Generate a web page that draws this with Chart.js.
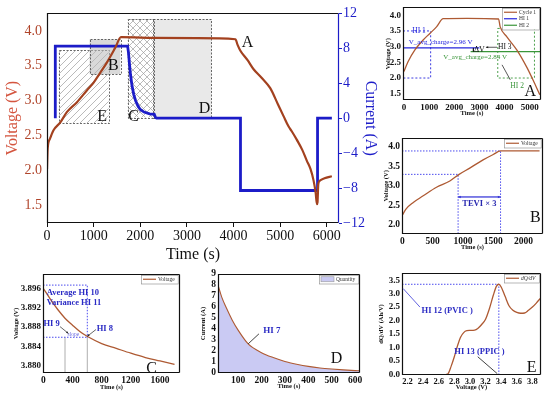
<!DOCTYPE html>
<html lang="en">
<head>
<meta charset="UTF-8">
<title>Charge / discharge cycle and health indicators</title>
<style>
  body { margin: 0; background: #fff; }
  #wrap { position: relative; width: 550px; height: 395px; overflow: hidden; background: #fff; }
  canvas { position: absolute; }
</style>
<script src="https://cdn.jsdelivr.net/npm/chart.js"></script>
</head>
<body>
<div id="wrap">
  <canvas id="main" width="380" height="265" style="left:0;top:0"></canvas>
  <canvas id="panelA" width="180" height="130" style="left:370px;top:0"></canvas>
  <canvas id="panelB" width="180" height="130" style="left:370px;top:130px"></canvas>
  <canvas id="panelC" width="190" height="133" style="left:0;top:262px"></canvas>
  <canvas id="panelD" width="180" height="133" style="left:190px;top:262px"></canvas>
  <canvas id="panelE" width="180" height="133" style="left:370px;top:262px"></canvas>
</div>

<script>
// ---- main panel: one full cycle ----
const mainTime = [0, 15, 60, 143, 286, 429, 643, 857, 1000, 1140, 1286, 1464, 1586, 2300, 3200, 4040, 4086, 4143, 4300, 4429, 4600, 4786, 4950, 5071, 5180, 5250, 5357, 5470, 5571, 5650, 5714, 5760, 5786, 5800, 5815, 5840, 5950, 6107];
const mainVolt = [2.02, 2.32, 2.45, 2.58, 2.69, 2.84, 2.98, 3.15, 3.26, 3.40, 3.55, 3.76, 3.91, 3.90, 3.895, 3.88, 3.80, 3.72, 3.58, 3.45, 3.33, 3.18, 2.95, 2.78, 2.63, 2.56, 2.44, 2.30, 2.14, 2.02, 1.86, 1.68, 1.52, 1.55, 1.80, 1.85, 1.89, 1.92];
const currTime = [178, 178, 1728, 1745, 1765, 1790, 1820, 1860, 1900, 1950, 2000, 2080, 2200, 2300, 2330, 2350, 4148, 4148, 5800, 5800, 6107];
const currVal = [0, 8.25, 8.25, 7.6, 6.4, 5.0, 3.8, 2.7, 2.0, 1.4, 1.0, 0.7, 0.5, 0.45, 0.05, 0, 0, -8.28, -8.28, 0, 0];
const mainXTicks = [0, 1000, 2000, 3000, 4000, 5000, 6000];
const voltTicks = [1.5, 2.0, 2.5, 3.0, 3.5, 4.0];
const currTicks = [-12, -8, -4, 0, 4, 8, 12];

// boxes marking the regions used by panels B-E (time range, voltage range)
const boxName = ['E', 'D', 'C', 'B'];
const boxT0 = [250, 2275, 1728, 913];
const boxT1 = [1320, 3526, 2275, 1571];
const boxVlo = [2.68, 2.76, 2.76, 3.38];
const boxVhi = [3.72, 4.17, 4.17, 3.88];
const tagName = ['A', 'B', 'C', 'D', 'E'];
const tagTime = [4300, 1423, 1854, 3378, 1180];
const tagVolt = [3.83, 3.50, 2.77, 2.88, 2.77];

// ---- panel A ----
const aTime = [0, 160, 427, 760, 1027, 1293, 1560, 2500, 3760, 3827, 4093, 4493, 4893, 5160, 5400];
const aVolt = [2.21, 2.52, 2.89, 3.21, 3.42, 3.63, 3.89, 3.90, 3.88, 3.63, 3.31, 2.89, 2.33, 1.89, 1.47];
const aXTicks = [0, 1000, 2000, 3000, 4000, 5000];
const aYTicks = [1.5, 2.0, 2.5, 3.0, 3.5, 4.0];
const hi1Avg = 2.96, hi2Avg = 2.84;
const hi1Box = [0, 1060, 2.0, 3.5];      // t0, t1, vlo, vhi
const hi2Box = [3730, 5190, 2.0, 3.58];

// ---- panel B ----
const bTime = [0, 60, 181, 345, 564, 784, 937, 1112, 1332, 1500, 1622, 2263];
const bVolt = [2.24, 2.40, 2.57, 2.74, 2.96, 3.12, 3.29, 3.45, 3.66, 3.80, 3.89, 3.89];
const bXTicks = [0, 500, 1000, 1500, 2000];
const bYTicks = [2.0, 2.5, 3.0, 3.5, 4.0];
const teviTime = [920, 1620];
const teviVolt = [3.29, 3.89];

// ---- panel C ----
const cTime = [0, 100, 200, 300, 400, 500, 600, 800, 1000, 1200, 1400, 1600, 1800];
const cVolt = [3.8960, 3.8937, 3.8916, 3.8898, 3.8884, 3.8871, 3.8861, 3.8846, 3.8836, 3.8826, 3.8817, 3.8810, 3.8803];
const cXTicks = [0, 400, 800, 1200, 1600];
const cYTicks = [3.880, 3.884, 3.888, 3.892, 3.896];

// ---- panel D ----
const dTime = [14, 30, 50, 75, 100, 143, 200, 250, 300, 350, 400, 450, 500, 550, 600, 621];
const dCurr = [8.0, 6.9, 5.9, 4.8, 3.9, 2.65, 1.85, 1.4, 1.05, 0.8, 0.6, 0.46, 0.36, 0.28, 0.22, 0.2];
const dXTicks = [100, 200, 300, 400, 500, 600];
const dYTicks = [0, 1, 2, 3, 4, 5, 6, 7, 8, 9];

// ---- panel E ----
const eVolt = [2.70, 2.72, 2.76, 2.80, 2.84, 2.88, 2.92, 2.96, 3.00, 3.06, 3.10, 3.15, 3.20, 3.25, 3.30, 3.34, 3.37, 3.40, 3.45, 3.50, 3.55, 3.60, 3.65, 3.70, 3.75, 3.80, 3.85, 3.90];
const eDqdv = [0, 0.02, 0.3, 0.65, 1.05, 1.38, 1.55, 1.62, 1.63, 1.64, 1.70, 1.85, 2.05, 2.45, 2.95, 3.28, 3.35, 3.25, 2.9, 2.55, 2.38, 2.3, 2.27, 2.28, 2.38, 2.5, 2.65, 2.82];
const eXTicks = [2.2, 2.4, 2.6, 2.8, 3.0, 3.2, 3.4, 3.6, 3.8];
const eYTicks = [0, 0.5, 1.0, 1.5, 2.0, 2.5, 3.0, 3.5];
const peakV = 3.37, peakQ = 3.35;

const serif = "'Liberation Serif', 'Times New Roman', serif";
Chart.defaults.font.family = serif;
const brown = '#A3411F', blue = '#1C1CC8', insetBrown = '#AE5A33', insetBlue = '#2525DD', green = '#3A963A', noteBlue = '#2B2BC4';

const pts = (xs, ys) => xs.map((x, i) => ({ x, y: ys[i] }));

function txt(ctx, s, x, y, size, color, opt = {}) {
  ctx.font = (opt.italic ? 'italic ' : '') + (opt.bold ? 'bold ' : '') + size + 'px ' + serif;
  ctx.fillStyle = color;
  ctx.textAlign = opt.align || 'left';
  ctx.textBaseline = 'middle';
  ctx.fillText(s, x, y);
}
function seg(ctx, x1, y1, x2, y2, color, w = 0.8, head = 0) {
  ctx.strokeStyle = color; ctx.fillStyle = color; ctx.lineWidth = w;
  ctx.beginPath(); ctx.moveTo(x1, y1); ctx.lineTo(x2, y2); ctx.stroke();
  if (head) {
    const a = Math.atan2(y2 - y1, x2 - x1);
    ctx.beginPath(); ctx.moveTo(x2, y2);
    ctx.lineTo(x2 - head * Math.cos(a - 0.45), y2 - head * Math.sin(a - 0.45));
    ctx.lineTo(x2 - head * Math.cos(a + 0.45), y2 - head * Math.sin(a + 0.45));
    ctx.closePath(); ctx.fill();
  }
}
function darrow(ctx, x1, y1, x2, y2, color, head) {
  seg(ctx, x1, y1, x2, y2, color, 0.8, head);
  seg(ctx, x2, y2, x1, y1, color, 0.8, head);
}

function frame(rightColor) {
  return {
    id: 'frame',
    afterDatasetsDraw(chart) {
      const { ctx, chartArea: a } = chart;
      const l = Math.round(a.left) + 0.5, r = Math.round(a.right) - 0.5;
      const t = Math.round(a.top) + 0.5, b = Math.round(a.bottom) - 0.5;
      ctx.save();
      ctx.lineWidth = 1.2; ctx.strokeStyle = '#111';
      ctx.beginPath(); ctx.moveTo(r, t); ctx.lineTo(l, t); ctx.lineTo(l, b); ctx.lineTo(r, b); ctx.stroke();
      ctx.strokeStyle = rightColor;
      ctx.beginPath(); ctx.moveTo(r, t); ctx.lineTo(r, b); ctx.stroke();
      ctx.restore();
    }
  };
}

function notes(draw) {
  return {
    id: 'notes',
    afterDatasetsDraw(chart) {
      const { ctx, scales } = chart;
      const X = v => scales.x.getPixelForValue(v), Y = v => scales.y.getPixelForValue(v);
      ctx.save(); draw(ctx, X, Y); ctx.restore();
    }
  };
}

// small boxed legend in the top right corner of an inset
const keyPlugin = {
  id: 'key',
  afterDatasetsDraw(chart) {
    const items = chart.data.datasets.filter(d => d.showKey);
    if (!items.length) return;
    const { ctx, chartArea: a } = chart;
    const size = 5.5, row = 6.5, sw = 13;
    ctx.save();
    ctx.font = size + 'px ' + serif;
    const tw = Math.max(...items.map(d => ctx.measureText(d.label).width));
    const w = sw + tw + 7, h = items.length * row + 2;
    const x0 = Math.round(a.right - w - 2), y0 = Math.round(a.top + 1);
    ctx.fillStyle = '#fff'; ctx.fillRect(x0, y0, w, h);
    ctx.strokeStyle = '#888'; ctx.lineWidth = 0.6; ctx.strokeRect(x0 + 0.5, y0 + 0.5, w, h);
    items.forEach((d, i) => {
      const cy = y0 + 1 + row * i + row / 2;
      if (d.fill) {
        ctx.fillStyle = d.backgroundColor; ctx.fillRect(x0 + 2, cy - 2.5, sw, 5);
        ctx.strokeStyle = '#999'; ctx.strokeRect(x0 + 2, cy - 2.5, sw, 5);
      } else {
        ctx.strokeStyle = d.borderColor; ctx.lineWidth = 1.2;
        ctx.beginPath(); ctx.moveTo(x0 + 2, cy); ctx.lineTo(x0 + 2 + sw, cy); ctx.stroke();
      }
      txt(ctx, d.label, x0 + sw + 4, cy, size, '#333', { italic: d.keyItalic });
    });
    ctx.restore();
  }
};

function hatch(ctx, cross) {
  const c = document.createElement('canvas');
  c.width = c.height = 7;
  const g = c.getContext('2d');
  g.strokeStyle = '#9c9c9c'; g.lineWidth = 0.7;
  g.beginPath();
  g.moveTo(0, 7); g.lineTo(7, 0); g.moveTo(-1, 1); g.lineTo(1, -1); g.moveTo(6, 8); g.lineTo(8, 6);
  if (cross) { g.moveTo(0, 0); g.lineTo(7, 7); g.moveTo(6, -1); g.lineTo(8, 1); g.moveTo(-1, 6); g.lineTo(1, 8); }
  g.stroke();
  return ctx.createPattern(c, 'repeat');
}

const boxPlugin = {
  id: 'boxes',
  beforeDatasetsDraw(chart) {
    const { ctx, scales: { x, y } } = chart;
    const fills = { E: hatch(ctx, false), C: hatch(ctx, true), B: 'rgba(185,185,185,0.55)', D: 'rgba(226,226,226,0.75)' };
    ctx.save();
    boxName.forEach((n, i) => {
      const x0 = x.getPixelForValue(boxT0[i]), x1 = x.getPixelForValue(boxT1[i]);
      const y0 = y.getPixelForValue(boxVhi[i]), y1 = y.getPixelForValue(boxVlo[i]);
      ctx.fillStyle = fills[n];
      ctx.fillRect(x0, y0, x1 - x0, y1 - y0);
      ctx.setLineDash([2, 1.5]); ctx.strokeStyle = '#444'; ctx.lineWidth = 0.8;
      ctx.strokeRect(Math.round(x0) + 0.5, Math.round(y0) + 0.5, Math.round(x1 - x0), Math.round(y1 - y0));
      ctx.setLineDash([]);
    });
    ctx.restore();
  },
  afterDatasetsDraw(chart) {
    const { ctx, scales: { x, y } } = chart;
    ctx.save();
    tagName.forEach((n, i) => txt(ctx, n, x.getPixelForValue(tagTime[i]), y.getPixelForValue(tagVolt[i]), 16, '#111', { align: 'center' }));
    ctx.restore();
  }
};

const fixTicks = list => s => { s.ticks = list.map(v => ({ value: v })); };

new Chart(document.getElementById('main'), {
  type: 'line',
  data: {
    datasets: [
      { label: 'Voltage', data: pts(mainTime, mainVolt), yAxisID: 'y', borderColor: brown, borderWidth: 2.2, pointRadius: 0, cubicInterpolationMode: 'monotone' },
      { label: 'Current', data: pts(currTime, currVal), yAxisID: 'y1', borderColor: blue, borderWidth: 2.8, pointRadius: 0, tension: 0 }
    ]
  },
  options: {
    responsive: false, animation: false, events: [],
    layout: { padding: { top: 10, left: 0, right: 0, bottom: 0 } },
    plugins: { legend: { display: false }, tooltip: { enabled: false } },
    scales: {
      x: {
        type: 'linear', min: 0, max: 6260,
        afterBuildTicks: fixTicks(mainXTicks),
        afterFit: s => { s.height = 42; },
        grid: { display: true, drawOnChartArea: false, tickLength: 4, color: '#111' },
        border: { display: false },
        ticks: { color: '#111', padding: 1, autoSkip: false, maxRotation: 0, font: { size: 14 }, callback: v => String(v) },
        title: { display: true, text: 'Time (s)', color: '#111', font: { size: 16 }, padding: { top: 0, bottom: 0.5 } }
      },
      y: {
        type: 'linear', position: 'left', min: 1.25, max: 4.25,
        afterBuildTicks: fixTicks(voltTicks),
        afterFit: s => { s.width = 47; },
        grid: { display: false, drawTicks: false },
        border: { display: false },
        ticks: { color: '#B0442A', padding: 5, autoSkip: false, font: { size: 14 }, callback: v => v.toFixed(1) },
        title: { display: true, text: 'Voltage (V)', color: '#D4553F', font: { size: 16 }, padding: { top: 3, bottom: 0 } }
      },
      y1: {
        type: 'linear', position: 'right', min: -12, max: 12,
        afterBuildTicks: fixTicks(currTicks),
        afterFit: s => { s.width = 41; },
        grid: { display: true, drawOnChartArea: false, tickLength: 3, color: blue },
        border: { display: false },
        ticks: { color: blue, padding: 1, autoSkip: false, font: { size: 14 }, callback: v => v < 0 ? '\u2212' + Math.abs(v) : String(v) },
        title: { display: true, text: 'Current (A)', color: blue, font: { size: 16 }, padding: { top: 0.4, bottom: 0 } }
      }
    }
  },
  plugins: [boxPlugin, frame(blue)]
});

function axis(s, dir) {
  return {
    type: 'linear', min: s.min, max: s.max,
    afterBuildTicks: fixTicks(s.ticks),
    afterFit: sc => { if (dir === 'x') sc.height = s.size; else sc.width = s.size; },
    grid: { display: false, drawTicks: false },
    border: { display: false },
    ticks: {
      color: '#111', padding: 2, autoSkip: false, maxRotation: 0, minRotation: 0,
      font: { size: s.font || 9.5, weight: 'bold' }, callback: v => s.fmt ? s.fmt(v) : String(v)
    },
    title: { display: true, text: s.title, color: '#111', font: { size: 6.5, weight: 'bold' }, padding: dir === 'x' ? { top: 0, bottom: s.tpad } : { top: s.tpad, bottom: 0 } }
  };
}

function inset(id, o) {
  return new Chart(document.getElementById(id), {
    type: 'line',
    data: { datasets: o.datasets },
    options: {
      responsive: false, animation: false, events: [],
      layout: { padding: { top: o.pad[0], right: o.pad[1], left: 0, bottom: 0 } },
      plugins: { legend: { display: false }, tooltip: { enabled: false } },
      elements: { point: { radius: 0 } },
      scales: { x: axis(o.x, 'x'), y: axis(o.y, 'y') }
    },
    plugins: [frame('#111'), keyPlugin, notes(o.notes)]
  });
}

const dotted = (xs, ys) => ({ data: pts(xs, ys), borderColor: '#4B4BEE', borderWidth: 1, borderDash: [1.5, 1.5], tension: 0 });
const one = v => v.toFixed(1);

// panel A
inset('panelA', {
  pad: [7, 9],
  x: { min: -40, max: 5450, ticks: aXTicks, size: 30, title: 'Time (s)', tpad: 12.8, font: 9 },
  y: { min: 1.3, max: 4.25, ticks: aYTicks, size: 33, title: 'Voltage (V)', tpad: 14.4, font: 9, fmt: one },
  datasets: [
    { label: 'Cycle 1', showKey: true, data: pts(aTime, aVolt), borderColor: insetBrown, borderWidth: 1.3, cubicInterpolationMode: 'monotone' },
    { label: 'HI 1', showKey: true, data: pts([-40, 3000], [hi1Avg, hi1Avg]), borderColor: insetBlue, borderWidth: 1.1 },
    { label: 'HI 2', showKey: true, data: pts([2650, 5450], [hi2Avg, hi2Avg]), borderColor: green, borderWidth: 1.1 },
    { data: pts([-40, hi1Box[1], hi1Box[1], -40], [hi1Box[3], hi1Box[3], hi1Box[2], hi1Box[2]]), borderColor: insetBlue, borderWidth: 0.9, borderDash: [2, 2] },
    { data: pts([hi2Box[0], hi2Box[1], hi2Box[1], hi2Box[0], hi2Box[0]], [hi2Box[3], hi2Box[3], hi2Box[2], hi2Box[2], hi2Box[3]]), borderColor: green, borderWidth: 0.9, borderDash: [2, 2] }
  ],
  notes: (ctx, X, Y) => {
    txt(ctx, 'HI 1', X(600), Y(3.5), 7.5, insetBlue, { align: 'center' });
    txt(ctx, 'V_avg_charge=2.96 V', X(190), Y(3.13), 7, insetBlue);
    txt(ctx, 'V_avg_charge=2.84 V', X(2828), Y(2.68), 7, green, { align: 'center' });
    darrow(ctx, X(2760), Y(hi1Avg), X(2760), Y(hi2Avg), '#111', 1.5);
    txt(ctx, '\u0394V', X(3000), Y(2.89), 8, '#111', { align: 'center' });
    seg(ctx, X(3700), Y(2.98), X(3260), Y(2.98), '#111', 0.7, 2.5);
    txt(ctx, 'HI 3', X(3740), Y(2.98), 7.5, '#111');
    seg(ctx, X(3900), Y(2.42), X(4230), Y(1.94), '#111', 0.7);
    txt(ctx, 'HI 2', X(4500), Y(1.75), 7.5, green, { align: 'center' });
    txt(ctx, 'A', X(5028), Y(1.56), 16, '#111', { align: 'center' });
  }
});

// panel B
inset('panelB', {
  pad: [6, 7],
  x: { min: -5, max: 2320, ticks: bXTicks, size: 26, title: 'Time (s)', tpad: 8.8 },
  y: { min: 1.76, max: 4.23, ticks: bYTicks, size: 32, title: 'Voltage (V)', tpad: 12.1, fmt: one },
  datasets: [
    { label: 'Voltage', showKey: true, data: pts(bTime, bVolt), borderColor: insetBrown, borderWidth: 1.3, cubicInterpolationMode: 'monotone' },
    dotted([-5, teviTime[1], teviTime[1]], [teviVolt[1], teviVolt[1], 1.76]),
    dotted([-5, teviTime[0], teviTime[0]], [teviVolt[0], teviVolt[0], 1.76])
  ],
  notes: (ctx, X, Y) => {
    darrow(ctx, X(teviTime[0]), Y(2.71), X(teviTime[1]), Y(2.71), '#3838D8', 3);
    txt(ctx, 'TEVI \u00d7 3', X(1270), Y(2.53), 8.5, '#2828B0', { bold: true, align: 'center' });
    txt(ctx, 'B', X(2192), Y(2.18), 16, '#111', { align: 'center' });
  }
});

// panel C
inset('panelC', {
  pad: [12, 10],
  x: { min: -5, max: 1875, ticks: cXTicks, size: 22, title: 'Time (s)', tpad: 3.8 },
  y: { min: 3.8785, max: 3.899, ticks: cYTicks, size: 43, title: 'Voltage (V)', tpad: 12.8, font: 9, fmt: v => v.toFixed(3) },
  datasets: [
    { label: 'Voltage', showKey: true, data: pts(cTime, cVolt), borderColor: insetBrown, borderWidth: 1.3, cubicInterpolationMode: 'monotone' },
    dotted([-5, 603, 603], [3.8967, 3.8967, 3.8859]),
    dotted([-5, 603], [3.8859, 3.8859]),
    { data: pts([297, 297], [3.8785, 3.8859]), borderColor: '#9a9a9a', borderWidth: 0.8 },
    { data: pts([603, 603], [3.8785, 3.8859]), borderColor: '#9a9a9a', borderWidth: 0.8 }
  ],
  notes: (ctx, X, Y) => {
    txt(ctx, 'Average HI 10', X(46), Y(3.8952), 8.5, noteBlue, { bold: true });
    txt(ctx, 'Variance HI 11', X(46), Y(3.8930), 8.5, noteBlue, { bold: true });
    txt(ctx, 'HI 9', X(2), Y(3.8886), 8.5, noteBlue, { bold: true });
    txt(ctx, 'slope', X(411), Y(3.8865), 5.5, '#6A6AE0', { align: 'center' });
    seg(ctx, X(229), Y(3.8881), X(343), Y(3.8867), '#222', 0.7, 2.5);
    txt(ctx, 'HI 8', X(731), Y(3.8876), 8.5, noteBlue, { bold: true });
    seg(ctx, X(722), Y(3.8875), X(603), Y(3.8861), '#222', 0.7, 2.5);
    txt(ctx, 'C', X(1486), Y(3.8793), 16, '#111', { align: 'center' });
  }
});

// panel D
inset('panelD', {
  pad: [12, 10],
  x: { min: 14, max: 621, ticks: dXTicks, size: 22, title: 'Time (s)', tpad: 4.4 },
  y: { min: 0, max: 9, ticks: dYTicks, size: 28, title: 'Current (A)', tpad: 9.4 },
  datasets: [
    { label: 'Quantity', showKey: true, data: pts(dTime, dCurr), borderColor: insetBrown, borderWidth: 1.1, fill: 'origin', backgroundColor: 'rgba(196,196,242,0.9)', cubicInterpolationMode: 'monotone' }
  ],
  notes: (ctx, X, Y) => {
    seg(ctx, X(189), Y(3.56), X(143), Y(2.65), '#111', 0.8);
    txt(ctx, 'HI 7', X(207), Y(3.86), 9, noteBlue, { bold: true });
    txt(ctx, 'D', X(521), Y(1.27), 16, '#111', { align: 'center' });
  }
});

// panel E
inset('panelE', {
  pad: [11, 9],
  x: { min: 2.13, max: 3.91, ticks: eXTicks, size: 20, title: 'Voltage (V)', tpad: 3.8, font: 8.5, fmt: one },
  y: { min: -0.03, max: 3.77, ticks: eYTicks, size: 32, title: 'dQ/dV (Ah/V)', tpad: 7.8, font: 9, fmt: one },
  datasets: [
    { label: 'dQ/dV', showKey: true, keyItalic: true, data: pts(eVolt, eDqdv), borderColor: insetBrown, borderWidth: 1.3, cubicInterpolationMode: 'monotone' },
    dotted([2.13, peakV, peakV], [peakQ, peakQ, -0.03])
  ],
  notes: (ctx, X, Y) => {
    seg(ctx, X(2.145), Y(3.19), X(2.36), Y(2.5), '#3A3AD8', 0.8);
    txt(ctx, 'HI 12 (PVIC )', X(2.38), Y(2.36), 8.5, noteBlue, { bold: true });
    txt(ctx, 'HI 13 (PPIC )', X(2.80), Y(0.83), 8.5, noteBlue, { bold: true });
    seg(ctx, X(3.10), Y(0.65), X(3.35), Y(0.02), '#111', 0.8);
    txt(ctx, 'E', X(3.79), Y(0.25), 16, '#111', { align: 'center' });
  }
});
</script>
</body>
</html>
